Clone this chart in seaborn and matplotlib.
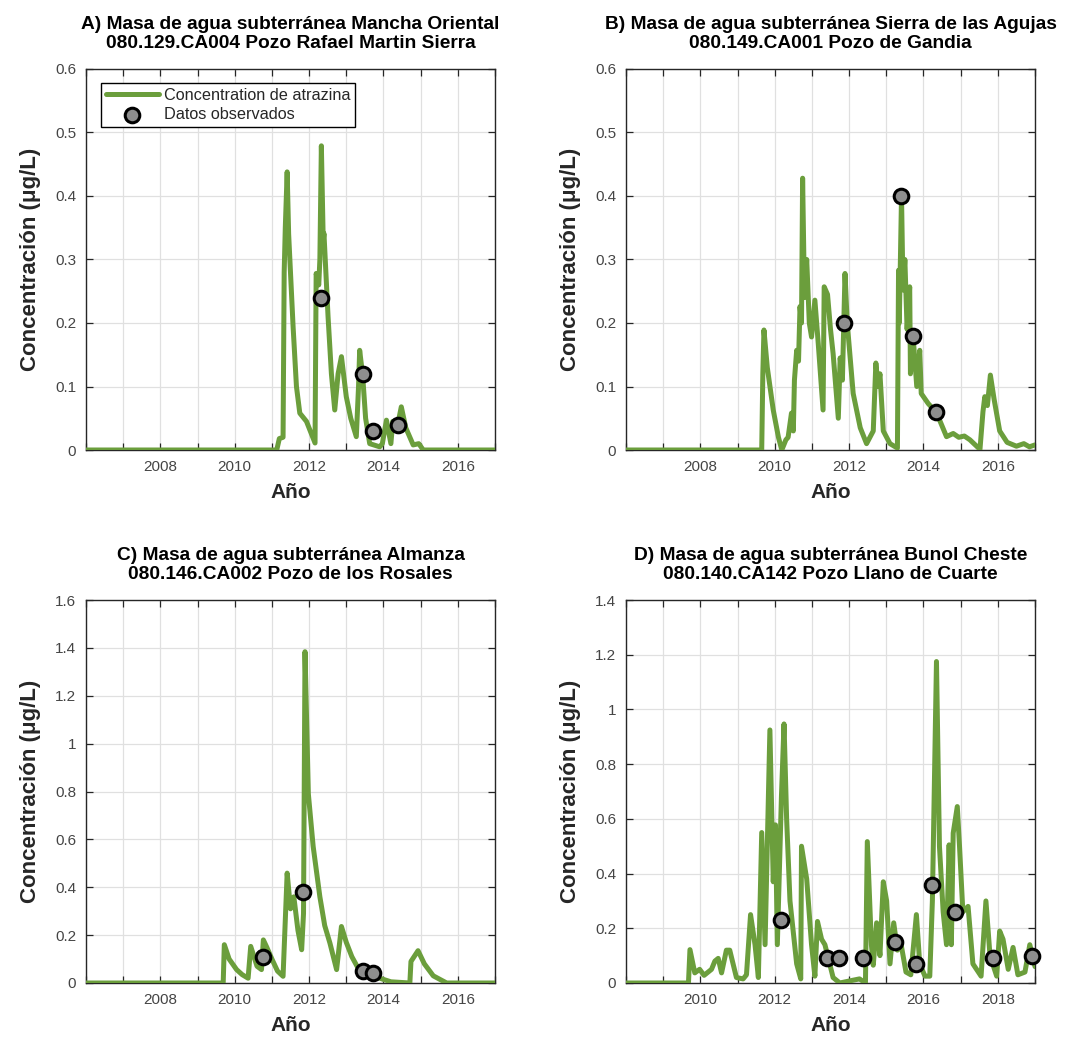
import numpy as np
import pandas as pd
import matplotlib
matplotlib.use("Agg")
import matplotlib.pyplot as plt
import seaborn as sns
from matplotlib.ticker import FixedLocator, FuncFormatter, MultipleLocator

# ---------------- data ----------------
titles = [
    "A) Masa de agua subterránea Mancha Oriental\n080.129.CA004 Pozo Rafael Martin Sierra",
    "B) Masa de agua subterránea Sierra de las Agujas\n080.149.CA001 Pozo de Gandia",
    "C) Masa de agua subterránea Almanza\n080.146.CA002 Pozo de los Rosales",
    "D) Masa de agua subterránea Bunol Cheste\n080.140.CA142 Pozo Llano de Cuarte",
]

a_year = [2006.0, 2011.13, 2011.2, 2011.3, 2011.33, 2011.36, 2011.41, 2011.45, 2011.57, 2011.66,
          2011.75, 2011.93, 2012.16, 2012.19, 2012.26, 2012.29, 2012.33, 2012.38, 2012.4, 2012.51,
          2012.6, 2012.69, 2012.78, 2012.87, 2013.0, 2013.12, 2013.27, 2013.33, 2013.36, 2013.44,
          2013.52, 2013.63, 2013.9, 2013.97, 2014.08, 2014.2, 2014.25, 2014.35, 2014.48, 2014.6,
          2014.8, 2014.95, 2015.07, 2017.0]
a_conc = [0.0, 0.0, 0.018, 0.02, 0.28, 0.35, 0.438, 0.34, 0.194, 0.1,
          0.058, 0.045, 0.011, 0.278, 0.26, 0.3, 0.479, 0.33, 0.341, 0.21,
          0.12, 0.063, 0.12, 0.147, 0.084, 0.05, 0.021, 0.1, 0.157, 0.118,
          0.05, 0.01, 0.005, 0.01, 0.047, 0.01, 0.045, 0.03, 0.068, 0.035,
          0.008, 0.01, 0.0, 0.0]
a_obs_year = [2012.31, 2013.44, 2013.72, 2014.4]
a_obs_conc = [0.24, 0.12, 0.03, 0.04]

b_year = [2006.0, 2009.65, 2009.68, 2009.71, 2009.8, 2009.96, 2010.1, 2010.19, 2010.3, 2010.36,
          2010.45, 2010.5, 2010.53, 2010.59, 2010.64, 2010.68, 2010.72, 2010.75, 2010.8, 2010.86,
          2010.93, 2010.99, 2011.08, 2011.17, 2011.3, 2011.33, 2011.42, 2011.5, 2011.57, 2011.71,
          2011.76, 2011.82, 2011.89, 2011.95, 2012.11, 2012.3, 2012.47, 2012.65, 2012.72, 2012.78,
          2012.83, 2012.92, 2013.1, 2013.3, 2013.33, 2013.35, 2013.41, 2013.45, 2013.5, 2013.56,
          2013.63, 2013.65, 2013.72, 2013.82, 2013.9, 2013.94, 2014.13, 2014.35, 2014.62, 2014.8,
          2014.95, 2015.1, 2015.25, 2015.52, 2015.6, 2015.65, 2015.72, 2015.8, 2015.9, 2016.05,
          2016.25, 2016.5, 2016.7, 2016.85, 2017.0]
b_conc = [0.0, 0.0, 0.12, 0.189, 0.13, 0.063, 0.02, 0.0, 0.016, 0.02,
          0.058, 0.03, 0.11, 0.157, 0.14, 0.226, 0.2, 0.428, 0.24, 0.3,
          0.2, 0.178, 0.236, 0.168, 0.063, 0.257, 0.245, 0.19, 0.152, 0.05,
          0.145, 0.11, 0.278, 0.2, 0.089, 0.035, 0.01, 0.03, 0.137, 0.1,
          0.12, 0.03, 0.01, 0.003, 0.283, 0.2, 0.4, 0.252, 0.3, 0.19,
          0.257, 0.12, 0.18, 0.1, 0.157, 0.089, 0.073, 0.059, 0.021, 0.026,
          0.02, 0.022, 0.016, 0.001, 0.06, 0.084, 0.07, 0.118, 0.08, 0.03,
          0.012, 0.006, 0.01, 0.005, 0.008]
b_obs_year = [2011.86, 2013.4, 2013.72, 2014.35]
b_obs_conc = [0.2, 0.4, 0.18, 0.06]

c_year = [2006.0, 2009.69, 2009.72, 2009.85, 2010.05, 2010.2, 2010.36, 2010.43, 2010.6, 2010.72,
          2010.77, 2010.86, 2011.0, 2011.15, 2011.3, 2011.41, 2011.5, 2011.59, 2011.7, 2011.8,
          2011.85, 2011.89, 2011.98, 2012.11, 2012.29, 2012.42, 2012.56, 2012.74, 2012.87, 2013.0,
          2013.15, 2013.36, 2013.7, 2014.0, 2014.2, 2014.71, 2014.74, 2014.93, 2015.1, 2015.34,
          2015.7, 2017.0]
c_conc = [0.0, 0.0, 0.16, 0.1, 0.056, 0.035, 0.02, 0.153, 0.07, 0.056,
          0.18, 0.15, 0.1, 0.05, 0.028, 0.459, 0.31, 0.36, 0.22, 0.139,
          0.29, 1.384, 0.79, 0.57, 0.36, 0.24, 0.167, 0.056, 0.236, 0.17,
          0.11, 0.05, 0.03, 0.015, 0.005, 0.0, 0.09, 0.135, 0.08, 0.03,
          0.0, 0.0]
c_obs_year = [2010.75, 2011.84, 2013.44, 2013.72]
c_obs_conc = [0.11, 0.38, 0.05, 0.04]

d_year = [2008.0, 2009.68, 2009.72, 2009.85, 2009.98, 2010.1, 2010.3, 2010.39, 2010.48, 2010.57,
          2010.7, 2010.79, 2010.97, 2011.15, 2011.24, 2011.35, 2011.47, 2011.56, 2011.65, 2011.74,
          2011.87, 2011.96, 2012.02, 2012.07, 2012.18, 2012.25, 2012.32, 2012.41, 2012.59, 2012.7,
          2012.72, 2012.86, 2012.99, 2013.08, 2013.15, 2013.26, 2013.35, 2013.57, 2013.75, 2014.1,
          2014.28, 2014.44, 2014.49, 2014.6, 2014.65, 2014.74, 2014.83, 2014.92, 2015.01, 2015.1,
          2015.2, 2015.3, 2015.4, 2015.53, 2015.66, 2015.81, 2015.9, 2016.04, 2016.17, 2016.24,
          2016.35, 2016.43, 2016.53, 2016.62, 2016.69, 2016.75, 2016.8, 2016.91, 2016.97, 2017.06,
          2017.2, 2017.33, 2017.55, 2017.68, 2017.79, 2017.97, 2018.05, 2018.14, 2018.28, 2018.41,
          2018.54, 2018.73, 2018.86, 2019.0]
d_conc = [0.0, 0.0, 0.122, 0.037, 0.05, 0.028, 0.05, 0.08, 0.09, 0.037,
          0.12, 0.12, 0.02, 0.015, 0.03, 0.25, 0.14, 0.02, 0.55, 0.14,
          0.925, 0.37, 0.578, 0.14, 0.68, 0.947, 0.6, 0.3, 0.07, 0.015,
          0.5, 0.38, 0.14, 0.025, 0.225, 0.16, 0.14, 0.02, 0.0, 0.01,
          0.015, 0.0, 0.517, 0.14, 0.065, 0.22, 0.1, 0.37, 0.3, 0.07,
          0.22, 0.12, 0.14, 0.04, 0.03, 0.25, 0.07, 0.025, 0.025, 0.3,
          1.175, 0.5, 0.26, 0.14, 0.505, 0.14, 0.548, 0.645, 0.5, 0.26,
          0.28, 0.07, 0.025, 0.3, 0.1, 0.025, 0.19, 0.16, 0.05, 0.13,
          0.03, 0.04, 0.14, 0.06]
d_obs_year = [2012.17, 2013.41, 2013.73, 2014.38, 2015.23, 2015.8, 2016.24, 2016.84, 2017.87, 2018.93]
d_obs_conc = [0.23, 0.09, 0.09, 0.09, 0.15, 0.07, 0.36, 0.26, 0.09, 0.1]

x_limits = [(2006, 2017), (2006, 2017), (2006, 2017), (2008, 2019)]
y_limits = [(0, 0.6), (0, 0.6), (0, 1.6), (0, 1.4)]
y_steps = [0.1, 0.1, 0.2, 0.2]

line_label = "Concentration de atrazina"
obs_label = "Datos observados"
x_label = "Año"
y_label = "Concentración (μg/L)"

# ---------------- style ----------------
sns.set_theme(style="white")
plt.rcParams["font.family"] = ["Liberation Sans", "DejaVu Sans"]

GREEN = "#6b9e3c"
MARK = "#8e8e8e"
TXT = "#262626"

fig = plt.figure(figsize=(10.73, 10.38), dpi=100)
positions = [
    [86 / 1073, 1 - 450 / 1038, 409 / 1073, 381 / 1038],
    [626 / 1073, 1 - 450 / 1038, 409 / 1073, 381 / 1038],
    [86 / 1073, 1 - 983 / 1038, 409 / 1073, 383 / 1038],
    [626 / 1073, 1 - 983 / 1038, 409 / 1073, 383 / 1038],
]

series = [
    (a_year, a_conc, a_obs_year, a_obs_conc),
    (b_year, b_conc, b_obs_year, b_obs_conc),
    (c_year, c_conc, c_obs_year, c_obs_conc),
    (d_year, d_conc, d_obs_year, d_obs_conc),
]


def fmt_y(v, pos):
    s = f"{v:.1f}".rstrip("0").rstrip(".")
    return s


for i, (pos, (yr, cc, oy, oc)) in enumerate(zip(positions, series)):
    ax = fig.add_axes(pos)
    line_df = pd.DataFrame({"year": yr, "conc": cc})
    obs_df = pd.DataFrame({"year": oy, "conc": oc})
    sns.lineplot(data=line_df, x="year", y="conc", ax=ax, sort=False, estimator=None,
                 color=GREEN, linewidth=3.6, label=line_label if i == 0 else None,
                 zorder=3)
    sns.scatterplot(data=obs_df, x="year", y="conc", ax=ax, s=110, color=MARK,
                    edgecolor="black", linewidth=2.2, label=obs_label if i == 0 else None,
                    zorder=4, clip_on=False)

    x0, x1 = x_limits[i]
    ax.set_xlim(x0, x1)
    ax.set_ylim(*y_limits[i])
    years = list(range(x0, x1 + 1))
    ax.xaxis.set_major_locator(FixedLocator(years))
    ax.xaxis.set_major_formatter(FuncFormatter(
        lambda v, p, x0=x0, x1=x1: str(int(round(v))) if (int(round(v)) - x0) % 2 == 0 and x0 < round(v) < x1 else ""))
    ax.yaxis.set_major_locator(MultipleLocator(y_steps[i]))
    ax.yaxis.set_major_formatter(FuncFormatter(fmt_y))

    ax.grid(True, color="#e0e0e0", linewidth=0.9)
    ax.set_axisbelow(True)
    ax.tick_params(axis="both", which="major", direction="in", length=5, width=0.9,
                   top=True, right=True, bottom=True, left=True, colors="#262626",
                   labelsize=11, labelcolor="#454545")
    ax.tick_params(axis="y", pad=7)
    ax.tick_params(axis="x", pad=7)
    for sp in ax.spines.values():
        sp.set_color("#262626")
        sp.set_linewidth(1.0)

    ax.set_xlabel(x_label, fontsize=15, fontweight="bold", color=TXT, labelpad=7)
    ax.set_ylabel(y_label, fontsize=16, fontweight="bold", color=TXT, labelpad=10)
    ax.set_title(titles[i], fontsize=13.8, fontweight="bold", color="black", pad=15,
                 linespacing=1.18)

    if i == 0:
        leg = ax.legend(loc="upper left", bbox_to_anchor=(0.036, 0.963), frameon=True,
                        fancybox=False, edgecolor="black", framealpha=1, fontsize=11.7,
                        handlelength=3.3, borderpad=0.3, labelspacing=0.25,
                        handletextpad=0.3, borderaxespad=0.0)
        leg.get_frame().set_linewidth(1.0)
    else:
        if ax.get_legend() is not None:
            ax.get_legend().remove()

fig.savefig("out.png", dpi=100)
